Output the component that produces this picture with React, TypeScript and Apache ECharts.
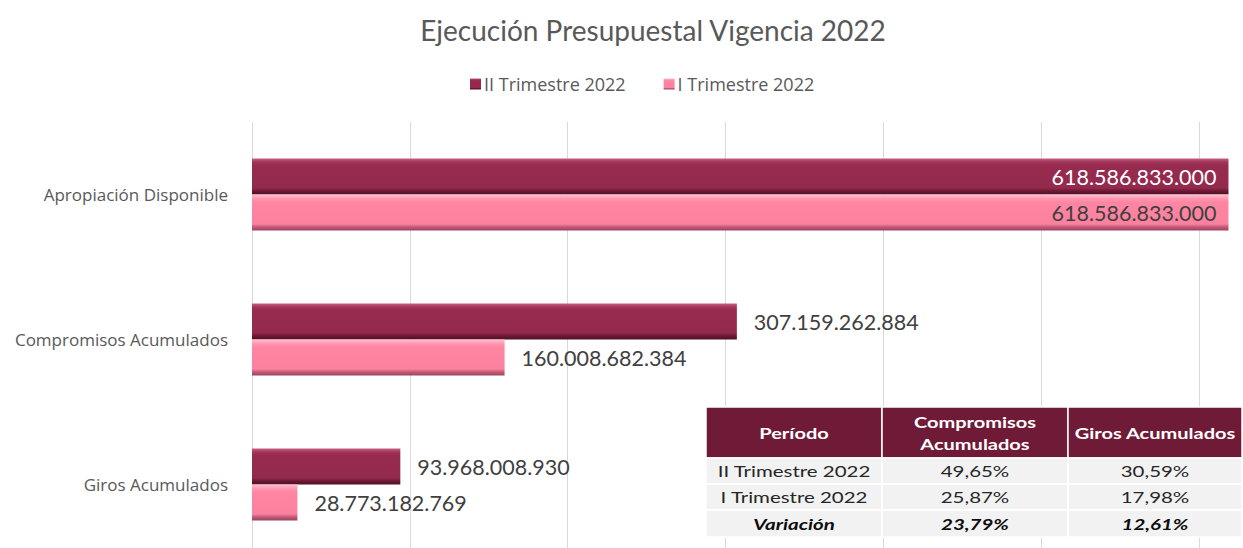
import React, { useEffect, useRef } from "react";
import * as echarts from "echarts";

const categories = ["Apropiación Disponible", "Compromisos Acumulados", "Giros Acumulados"];
const seriesNames = ["II Trimestre 2022", "I Trimestre 2022"];
const valuesII = [618586833000, 307159262884, 93968008930];
const valuesI = [618586833000, 160008682384, 28773182769];

const tableHeaders = ["Período", "Compromisos\nAcumulados", "Giros Acumulados"];
const tableRows = [
  ["II Trimestre 2022", "49,65%", "30,59%"],
  ["I Trimestre 2022", "25,87%", "17,98%"],
  ["Variación", "23,79%", "12,61%"],
];

const FONT = "Lato, 'Noto Sans', sans-serif";
const FONT2 = "'Open Sans', 'Noto Sans', sans-serif";

function fmt(v: number): string {
  return Math.round(v).toString().replace(/\B(?=(\d{3})+(?!\d))/g, ".");
}

function grad(stops: [number, string][]) {
  return new echarts.graphic.LinearGradient(
    0, 0, 0, 1,
    stops.map(([offset, color]) => ({ offset, color }))
  );
}

const darkFill = grad([
  [0, "#c8607f"],
  [0.1, "#a33459"],
  [0.2, "#972a4f"],
  [0.82, "#932a4e"],
  [0.9, "#6e1834"],
  [1, "#4f0f26"],
]);
const lightFill = grad([
  [0, "#ffc0d0"],
  [0.12, "#ff96b0"],
  [0.22, "#ff86a3"],
  [0.82, "#fb819f"],
  [0.9, "#c55a77"],
  [1, "#9a4560"],
]);

function buildData(values: number[], insideColor: string) {
  return values.map((v, i) =>
    i === 0
      ? {
          value: v,
          label: {
            position: "insideRight",
            distance: 12,
            color: insideColor,
            fontSize: 21.5,
          },
        }
      : { value: v }
  );
}

function buildTable() {
  const colX = [706, 882, 1068, 1242];
  const rowY = [407, 458, 484, 510, 537];
  const els: any[] = [];
  for (let c = 0; c < 3; c++) {
    const x0 = colX[c];
    const w = colX[c + 1] - colX[c];
    els.push({
      type: "rect",
      shape: { x: x0, y: rowY[0], width: w, height: rowY[1] - rowY[0] },
      style: { fill: "#6f1a37", stroke: "#ffffff", lineWidth: 1.5 },
      z: 100,
    });
    els.push({
      type: "text",
      x: x0 + w / 2,
      y: (rowY[0] + rowY[1]) / 2,
      scaleX: 1.25,
      z: 101,
      style: {
        text: tableHeaders[c],
        align: "center",
        verticalAlign: "middle",
        fill: "#ffffff",
        font: `bold 16px ${FONT}`,
        lineHeight: 22,
      },
    });
    for (let r = 0; r < tableRows.length; r++) {
      const y0 = rowY[r + 1];
      const h = rowY[r + 2] - y0;
      const isLast = r === tableRows.length - 1;
      els.push({
        type: "rect",
        shape: { x: x0, y: y0, width: w, height: h },
        style: { fill: "#f2f2f2", stroke: "#ffffff", lineWidth: 1.5 },
        z: 100,
      });
      els.push({
        type: "text",
        x: x0 + w / 2,
        y: y0 + h / 2,
        scaleX: 1.28,
        z: 101,
        style: {
          text: tableRows[r][c],
          align: "center",
          verticalAlign: "middle",
          fill: isLast ? "#0d0d0d" : "#262626",
          font: isLast ? `italic bold 16px ${FONT}` : `16px ${FONT}`,
        },
      });
    }
  }
  return els;
}

export default function App() {
  const ref = useRef<HTMLDivElement>(null);
  useEffect(() => {
    document.body.style.margin = "0";
    if (!ref.current) return;
    const chart = echarts.init(ref.current, null, { renderer: "svg" });
    chart.setOption({
      animation: false,
      backgroundColor: "#ffffff",
      title: {
        text: "Ejecución Presupuestal Vigencia 2022",
        left: 648,
        top: 11,
        textAlign: "center",
        textStyle: {
          fontFamily: FONT,
          fontSize: 28,
          fontWeight: "normal",
          color: "#595959",
        },
      },
      legend: {
        data: seriesNames,
        left: 465,
        top: 70,
        itemWidth: 11,
        itemHeight: 11,
        itemGap: 38,
        icon: "rect",
        textStyle: { fontFamily: FONT2, fontSize: 18, color: "#595959", padding: [0, 0, 0, -2] },
      },
      grid: {
        left: 252,
        top: 122,
        width: 1105,
        height: 435,
        containLabel: false,
        outerBoundsMode: "none",
      },
      xAxis: {
        type: "value",
        min: 0,
        max: 700000000000,
        interval: 100000000000,
        axisLabel: { show: false },
        axisLine: { show: false },
        axisTick: { show: false },
        splitLine: { show: true, lineStyle: { color: "#d9d9d9", width: 1 } },
      },
      yAxis: {
        type: "category",
        data: categories,
        inverse: true,
        axisLine: { show: false },
        axisTick: { show: false },
        axisLabel: { margin: 24, fontFamily: FONT2, fontSize: 17, color: "#595959" },
      },
      series: [
        {
          name: seriesNames[0],
          type: "bar",
          barWidth: 36,
          barGap: "0%",
          itemStyle: { color: darkFill },
          label: {
            show: true,
            position: "right",
            distance: 17,
            fontFamily: FONT,
            fontSize: 21.5,
            color: "#404040",
            formatter: (p: any) => fmt(p.value),
          },
          data: buildData(valuesII, "#ffffff"),
        },
        {
          name: seriesNames[1],
          type: "bar",
          barWidth: 36,
          barGap: "0%",
          itemStyle: { color: lightFill },
          label: {
            show: true,
            position: "right",
            distance: 17,
            fontFamily: FONT,
            fontSize: 21.5,
            color: "#404040",
            formatter: (p: any) => fmt(p.value),
          },
          data: buildData(valuesI, "#404040"),
        },
      ],
      graphic: { elements: buildTable() },
    });
    return () => chart.dispose();
  }, []);
  return <div ref={ref} style={{ width: 1243, height: 548 }} />;
}
